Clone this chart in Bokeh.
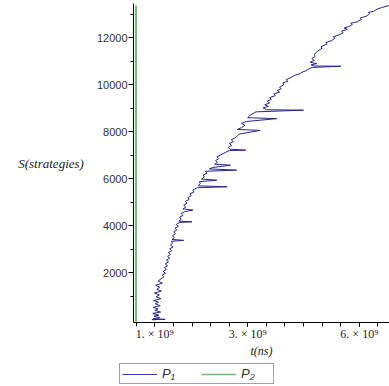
from bokeh.plotting import figure
from bokeh.layouts import column
from bokeh.models import Range1d, FixedTicker, Legend, LegendItem
from bokeh.embed import file_html
from bokeh.resources import INLINE

# ---- data (t in units of 1e9 ns, S = strategies) ----
p1_t = [1.02, 0.93, 1.25, 0.96, 1.12, 0.98, 1.10, 0.95, 1.14, 1.00, 1.08, 0.96, 1.13, 1.01,
        1.09, 0.97, 1.15, 1.03, 1.11, 0.99, 1.16, 1.05, 1.12, 1.02, 1.18, 1.08, 1.15, 1.22,
        1.18, 1.26, 1.20, 1.28, 1.23, 1.31, 1.25, 1.33, 1.28, 1.36, 1.31, 1.38, 1.33, 1.41,
        1.36, 1.44, 1.38, 1.43, 1.40, 1.70, 1.42, 1.47, 1.43, 1.50, 1.46, 1.53, 1.49, 1.57,
        1.52, 1.60, 1.90, 1.58, 1.64, 1.60, 1.68, 1.64, 1.72, 1.92, 1.68, 1.75, 1.70, 1.78,
        1.74, 1.83, 1.80, 1.88, 1.85, 1.95, 1.92, 2.03, 2.75, 2.05, 2.10, 2.08, 2.50, 2.13,
        2.20, 2.17, 2.26, 2.22, 2.98, 2.32, 2.40, 2.83, 2.45, 2.52, 2.47, 2.55, 2.50, 2.60,
        2.68, 2.80, 3.20, 2.82, 2.78, 2.86, 2.80, 2.90, 2.85, 2.96, 3.04, 3.55, 3.00, 3.10,
        3.18, 3.10, 3.22, 3.95, 3.25, 3.30, 3.38, 3.45, 4.60, 3.70, 3.62, 3.75, 3.66, 3.78,
        3.72, 3.82, 3.78, 3.92, 3.88, 4.02, 3.96, 4.06, 4.02, 4.12, 4.10, 4.22, 4.18, 4.30,
        4.38, 4.50, 4.57, 4.66, 4.70, 4.81, 5.50, 4.84, 4.78, 4.92, 4.76, 4.86, 4.80, 4.88,
        4.86, 4.93, 4.98, 5.05, 5.02, 5.17, 5.14, 5.28, 5.36, 5.32, 5.48, 5.56, 5.52, 5.66,
        5.58, 5.70, 5.78, 5.74, 5.90, 6.00, 5.97, 6.12, 6.20, 6.17, 6.30, 6.38, 6.48, 6.66]
p1_s = [0, 10, 20, 40, 90, 150, 200, 270, 330, 400, 460, 530, 600, 680,
        750, 820, 900, 980, 1060, 1140, 1220, 1300, 1390, 1470, 1560, 1650, 1740, 1830,
        1900, 1980, 2060, 2140, 2220, 2300, 2380, 2460, 2540, 2620, 2700, 2780, 2860, 2940,
        3020, 3100, 3180, 3260, 3340, 3380, 3420, 3500, 3580, 3660, 3740, 3820, 3900, 3980,
        4060, 4140, 4170, 4200, 4280, 4360, 4440, 4520, 4600, 4670, 4720, 4800, 4880, 4960,
        5040, 5120, 5200, 5280, 5360, 5440, 5520, 5620, 5660, 5700, 5800, 5880, 5940, 5990,
        6080, 6160, 6240, 6320, 6370, 6420, 6480, 6580, 6620, 6700, 6780, 6860, 6940, 7020,
        7100, 7200, 7220, 7260, 7340, 7420, 7500, 7580, 7660, 7760, 7900, 8060, 8100, 8180,
        8280, 8360, 8440, 8560, 8600, 8700, 8780, 8850, 8920, 8940, 9020, 9080, 9150, 9230,
        9300, 9380, 9450, 9540, 9610, 9690, 9760, 9830, 9900, 10000, 10080, 10150, 10220, 10320,
        10400, 10460, 10540, 10600, 10650, 10740, 10790, 10800, 10850, 10900, 10960, 11040, 11120, 11200,
        11300, 11420, 11480, 11560, 11620, 11740, 11800, 11880, 11980, 12040, 12140, 12220, 12280, 12360,
        12420, 12480, 12560, 12620, 12680, 12780, 12840, 12920, 13020, 13080, 13130, 13220, 13280, 13370]

p2_t = [0.545, 0.545]
p2_s = [-80, 13380]

x_tick_values = [1.0, 3.25, 5.95]
x_tick_labels = ["1. \u00d7 10\u2079", "3. \u00d7 10\u2079", "6. \u00d7 10\u2079"]
x_minor_values = [0.55, 1.0, 1.45, 1.9, 2.35, 2.8, 3.25, 3.7, 4.15, 4.6, 5.05, 5.5, 5.95, 6.4]
y_tick_values = [2000, 4000, 6000, 8000, 10000, 12000]
y_minor_values = [1000, 2000, 3000, 4000, 5000, 6000, 7000, 8000, 9000, 10000, 11000, 12000, 13000]

BLUE = "#26268a"
GREEN = "#70c070"

p = figure(width=389, height=360, output_backend="svg", toolbar_location=None,
           x_range=Range1d(0.484, 6.68), y_range=Range1d(-115, 13460),
           min_border_left=133, min_border_right=0, min_border_top=3, min_border_bottom=35)
p.frame_align = False
p.outline_line_color = None
p.xgrid.visible = False
p.ygrid.visible = False

p.line(p2_t, p2_s, line_color=GREEN, line_width=2)
p.line(p1_t, p1_s, line_color=BLUE, line_width=1)

# x axis
p.xaxis.ticker = FixedTicker(ticks=x_tick_values, minor_ticks=x_minor_values)
p.xaxis.major_label_overrides = dict(zip(x_tick_values, x_tick_labels))
p.xaxis.major_tick_out = 4
p.xaxis.major_tick_in = 0
p.xaxis.minor_tick_out = 4
p.xaxis.minor_tick_in = 0
p.xaxis.major_label_standoff = 0
p.xaxis.major_label_text_font = "Liberation Serif"
p.xaxis.major_label_text_font_size = "12px"
p.xaxis.major_label_text_color = "#222222"
p.xaxis.axis_label = "t(ns)"
p.xaxis.axis_label_text_font = "Liberation Serif"
p.xaxis.axis_label_text_font_style = "italic"
p.xaxis.axis_label_text_font_size = "12px"
p.xaxis.axis_label_text_color = "#222222"
p.xaxis.axis_label_standoff = 0

# y axis
p.yaxis.ticker = FixedTicker(ticks=y_tick_values, minor_ticks=y_minor_values)
p.yaxis.major_tick_out = 5
p.yaxis.major_tick_in = 0
p.yaxis.minor_tick_out = 3
p.yaxis.minor_tick_in = 0
p.yaxis.major_label_standoff = 1
p.yaxis.major_label_text_font = "Liberation Sans"
p.yaxis.major_label_text_font_size = "11px"
p.yaxis.major_label_text_color = "#333333"
p.yaxis.axis_label = "S(strategies)"
p.yaxis.axis_label_orientation = "horizontal"
p.yaxis.axis_label_text_font = "Liberation Serif"
p.yaxis.axis_label_text_font_style = "italic"
p.yaxis.axis_label_text_font_size = "13px"
p.yaxis.axis_label_text_color = "#222222"
p.yaxis.axis_label_standoff = 10

# legend strip below the plot (its ranges lie away from the data, so only the key shows)
lf = figure(width=389, height=26, output_backend="svg", toolbar_location=None,
            x_range=Range1d(-3, -2), y_range=Range1d(-3, -2),
            x_axis_type=None, y_axis_type=None,
            min_border_left=0, min_border_right=0, min_border_top=0, min_border_bottom=0)
lf.frame_align = False
lf.outline_line_color = None
lf.xgrid.visible = False
lf.ygrid.visible = False
k1 = lf.line(p1_t, p1_s, line_color="#3a3aa0", line_width=1)
k2 = lf.line(p2_t, p2_s, line_color=GREEN, line_width=1.5)

legend = Legend(items=[LegendItem(label="P\u2081", renderers=[k1]),
                       LegendItem(label="P\u2082", renderers=[k2])],
                orientation="horizontal", location=(119, 2))
legend.border_line_color = "#444444"
legend.border_line_width = 1
legend.background_fill_color = "white"
legend.background_fill_alpha = 1
legend.padding = 2
legend.margin = 0
legend.spacing = 9
legend.glyph_width = 35
legend.glyph_height = 14
legend.label_height = 14
legend.label_width = 30
legend.label_standoff = 5
legend.label_text_font = "Liberation Sans"
legend.label_text_font_style = "italic"
legend.label_text_font_size = "13px"
legend.label_text_color = "#333333"
lf.add_layout(legend)

layout = column(p, lf, spacing=0)
open("out.html", "w").write(file_html(layout, INLINE))
